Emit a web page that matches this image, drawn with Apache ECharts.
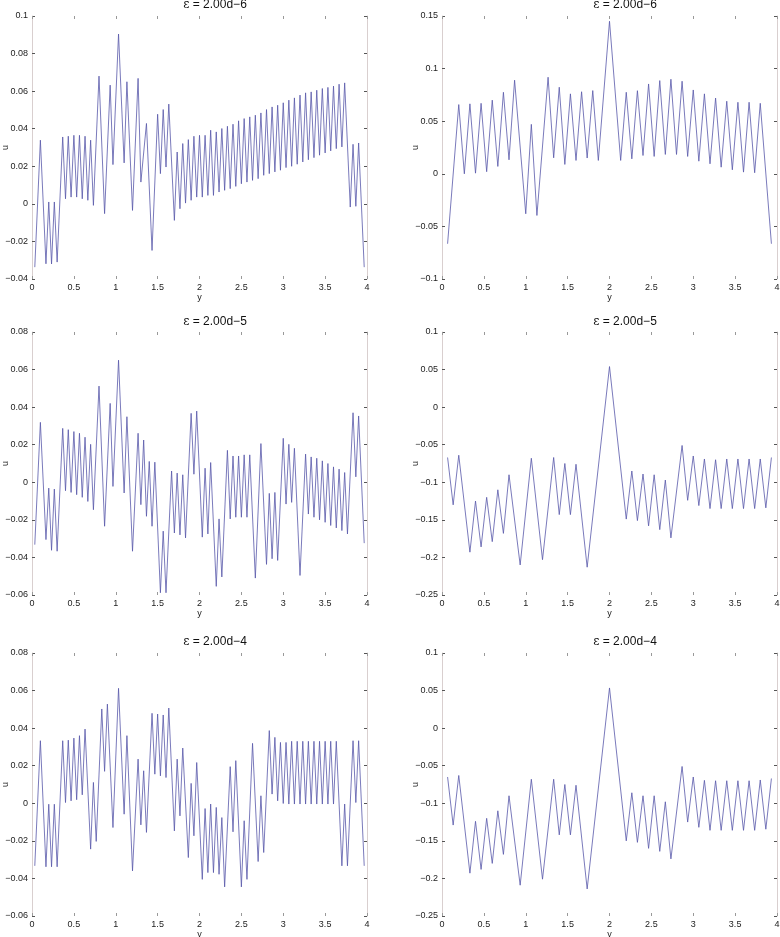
<!DOCTYPE html>
<html><head><meta charset="utf-8">
<script src="https://cdn.jsdelivr.net/npm/echarts/dist/echarts.min.js"></script>
<style>html,body{margin:0;padding:0;background:#fff}#c{width:780px;height:937px}</style>
</head><body><div id="c"></div>
<script>
const N = null;
const titles = ['2.00d\u22126', '2.00d\u22126', '2.00d\u22125', '2.00d\u22125', '2.00d\u22124', '2.00d\u22124'];
const xTicks = [0, 0.5, 1, 1.5, 2, 2.5, 3, 3.5, 4];
const stepLeft = 1 / 30, stepRight = 1 / 15;
const yRanges = [[-0.04, 0.1, 0.02], [-0.1, 0.15, 0.05], [-0.06, 0.08, 0.02], [-0.25, 0.1, 0.05], [-0.06, 0.08, 0.02], [-0.25, 0.1, 0.05]];

const uTopLeft = [
 -0.0337, N, 0.0339, N, -0.0319, 0.001, -0.032, 0.001, -0.031, N,
 0.0356, 0.0027, 0.036, 0.0036, 0.0365, 0.0036, 0.0365, 0.0027, 0.036, 0.0019,
 0.0339, -0.0008, N, 0.068, N, -0.0052, N, 0.0632, 0.0209, N,
 0.0904, N, 0.0218, 0.065, N, -0.0035, N, 0.0668, 0.0116, N,
 0.0428, N, -0.0248, N, 0.0477, 0.0161, 0.0502, 0.0196, 0.0531, N,
 -0.0088, 0.0276, -0.0026, 0.0321, 0.0004, 0.0342, 0.0019, 0.036, 0.0036, 0.0365,
 0.0036, 0.0365, 0.0045, 0.0392, 0.0045, 0.0383, 0.0063, 0.0401, 0.0072, 0.0413,
 0.0081, 0.0424, 0.0093, 0.0442, 0.0107, 0.0454, 0.0116, 0.0463, 0.0125, 0.0472,
 0.0134, 0.0484, 0.0152, 0.0502, 0.0161, 0.0516, 0.017, 0.0525, 0.0179, 0.0538,
 0.0193, 0.0552, 0.02, 0.0564, 0.0211, 0.0579, 0.0223, 0.0591, 0.0235, 0.0596,
 0.0246, 0.0605, 0.0259, 0.0614, 0.0271, 0.062, 0.0282, 0.0627, 0.0294, 0.0637,
 0.0303, 0.0644, N, -0.0017, 0.0317, -0.0013, 0.0324, N, -0.0337
];
const uMidLeft = [
 -0.0332, N, 0.0319, N, -0.0305, -0.0031, -0.0362, -0.0036, -0.0367, N,
 0.0287, -0.0045, 0.028, -0.0054, 0.027, -0.0066, 0.0261, -0.008, 0.024, -0.0102,
 0.0202, -0.0146, N, 0.0512, N, -0.0234, N, 0.042, -0.0022, N,
 0.065, N, -0.0057, 0.0349, N, -0.0367, N, 0.0261, -0.0119, 0.0225,
 -0.0181, 0.0111, -0.0234, 0.0107, N, -0.0588, -0.026, -0.0588, N, 0.006,
 -0.027, 0.0049, -0.028, 0.004, -0.0296, N, 0.0367, 0.0043, 0.0379, N,
 -0.0292, 0.0075, -0.0275, 0.0105, N, -0.0554, -0.0195, -0.0504, N, 0.017,
 -0.0195, 0.014, -0.0186, 0.014, -0.0186, 0.0146, -0.0186, 0.0146, N, -0.051,
 N, 0.0206, N, -0.0437, -0.0059, -0.0407, -0.0054, -0.0416, N, 0.0234,
 -0.0116, 0.0202, -0.0107, 0.0181, N, -0.0496, N, 0.015, -0.0169, 0.0135,
 -0.0186, 0.0128, -0.02, 0.0114, -0.0213, 0.01, -0.023, 0.0082, -0.0243, 0.007,
 -0.0257, 0.0052, -0.0275, N, 0.037, 0.0029, 0.0353, N, -0.0324
];
const uBotLeft = [
 -0.0333, N, 0.0333, N, -0.0338, -0.0005, -0.0338, -0.0005, -0.0338, N,
 0.0333, 0.0004, 0.0336, 0.0013, 0.0347, 0.0019, 0.036, 0.0045, 0.0395, N,
 -0.0244, 0.0111, -0.0203, N, 0.0502, 0.017, 0.0528, N, -0.0129, N,
 0.0612, N, -0.0058, 0.036, N, -0.036, N, 0.0235, -0.0115, 0.0173,
 -0.0155, N, 0.0479, 0.0155, 0.0475, 0.0146, 0.047, 0.0137, 0.0507, N,
 -0.0147, 0.0235, -0.0067, 0.0294, N, -0.0289, 0.0106, -0.0173, 0.0217, N,
 -0.0405, -0.0028, -0.0369, -0.0004, -0.0369, -0.0022, -0.0378, -0.0076, -0.0445, N,
 0.0195, -0.0152, 0.0227, N, -0.0445, -0.0093, -0.0405, N, 0.0319, N,
 -0.031, 0.004, -0.0262, N, 0.0387, 0.0049, 0.0351, 0.0013, 0.0324, -0.0001,
 0.0324, -0.0004, 0.033, -0.0004, 0.033, -0.0004, 0.033, -0.0004, 0.033, -0.0004,
 0.033, -0.0004, 0.033, -0.0004, 0.033, -0.0004, 0.033, -0.0004, 0.033, N,
 -0.0333, -0.0004, -0.0333, N, 0.0333, 0.0004, 0.0333, N, -0.0333
];
const uTopRight = [
 -0.0665, N, 0.0658, 0.0, 0.0665, 0.0006, 0.067, 0.002, 0.070, 0.007,
 0.0775, 0.0133, 0.089, N, -0.038, 0.047, -0.0396, N, 0.0918, 0.0152,
 0.0823, 0.0089, 0.076, 0.0127, 0.078, 0.015, 0.0791, 0.0127, N, 0.145,
 N, 0.0127, 0.0775, 0.0142, 0.079, 0.0174, 0.0854, 0.0165, 0.0886, 0.0184,
 0.0899, 0.0184, 0.088, 0.0165, 0.0797, 0.012, 0.076, 0.0095, 0.072, 0.0063,
 0.069, 0.0038, 0.068, 0.0016, 0.068, 0.001, 0.067, N, -0.0665
];
const uMidRight = [
 -0.067, -0.13, -0.064, N, -0.193, -0.125, -0.186, -0.12, -0.179, -0.11,
 -0.168, -0.09, N, -0.21, N, -0.068, N, -0.203, N, -0.067,
 -0.143, -0.075, -0.143, -0.076, N, -0.213, N, N, N, 0.054,
 N, N, -0.149, -0.085, -0.151, -0.089, -0.158, -0.09, -0.163, -0.097,
 -0.174, N, -0.051, -0.124, -0.065, -0.131, -0.069, -0.135, -0.07, -0.135,
 -0.069, -0.135, -0.069, -0.135, -0.069, -0.135, -0.069, -0.134, -0.067
];
const uBotRight = [
 -0.065, -0.129, -0.063, N, -0.193, -0.124, -0.188, -0.12, -0.18, -0.11,
 -0.168, -0.09, N, -0.209, N, -0.068, N, -0.201, N, -0.068,
 -0.142, -0.075, -0.142, -0.076, N, -0.214, N, N, N, 0.0535,
 N, N, -0.15, -0.086, -0.152, -0.09, -0.16, -0.09, -0.164, -0.098,
 -0.174, N, -0.051, -0.125, -0.065, -0.132, -0.0695, -0.136, -0.07, -0.136,
 -0.07, -0.136, -0.07, -0.136, -0.07, -0.136, -0.069, -0.1345, -0.067
];

const panels = [
  {vals: uTopLeft, step: stepLeft}, {vals: uTopRight, step: stepRight},
  {vals: uMidLeft, step: stepLeft}, {vals: uMidRight, step: stepRight},
  {vals: uBotLeft, step: stepLeft}, {vals: uBotRight, step: stepRight}
];

const rowTop = [16, 332, 653], colLeft = [32, 442], W = 335, H = 263;
const titleY = [5, 322, 642], titleX = [215, 625];
const FONT = '"Liberation Sans", Arial, Helvetica, sans-serif';
const lineColor = '#5858aa';
const frameColor = '#d9cfcf';

function fmt(v) {
  const s = String(Math.round(v * 10000) / 10000);
  return s.replace('-', '\u2212');
}

const grid = [], xAxis = [], yAxis = [], series = [], graphic = [];
panels.forEach((p, i) => {
  const r = Math.floor(i / 2), c = i % 2;
  grid.push({left: colLeft[c], top: rowTop[r], width: W, height: H, containLabel: false, outerBoundsMode: 'none'});
  const tickX = {show: true, inside: true, length: 3, lineStyle: {color: '#999', width: 1}};
  xAxis.push({
    gridIndex: i, type: 'value', min: xTicks[0], max: xTicks[xTicks.length - 1], interval: 0.5,
    position: 'bottom', axisLine: {show: false, onZero: false},
    axisTick: tickX,
    axisLabel: {show: true, fontSize: 9, color: '#222', margin: 4, fontFamily: FONT, formatter: fmt},
    splitLine: {show: false},
    name: 'y', nameLocation: 'middle', nameGap: 14, nameMoveOverlap: false,
    nameTextStyle: {fontSize: 9, color: '#222', fontFamily: FONT}
  }, {
    gridIndex: i, type: 'value', min: 0, max: 4, interval: 0.5, position: 'top',
    axisLine: {show: false, onZero: false}, axisTick: tickX,
    axisLabel: {show: false}, splitLine: {show: false}
  });
  const yr = yRanges[i];
  const tickY = {show: true, inside: true, length: 3, lineStyle: {color: '#555', width: 1}};
  yAxis.push({
    gridIndex: i, type: 'value', min: yr[0], max: yr[1], interval: yr[2], position: 'left',
    axisLine: {show: true, onZero: false, lineStyle: {color: frameColor, width: 1}},
    axisTick: tickY,
    axisLabel: {show: true, fontSize: 9, color: '#222', margin: 4, fontFamily: FONT, formatter: fmt},
    splitLine: {show: false},
    name: 'u', nameLocation: 'middle', nameRotate: 90, nameGap: 22, nameMoveOverlap: false,
    nameTextStyle: {fontSize: 9, color: '#222', fontFamily: FONT}
  }, {
    gridIndex: i, type: 'value', min: yr[0], max: yr[1], interval: yr[2], position: 'right',
    axisLine: {show: true, onZero: false, lineStyle: {color: frameColor, width: 1}},
    axisTick: tickY,
    axisLabel: {show: false}, splitLine: {show: false}
  });
  const data = p.vals.map((v, k) => [(k + 1) * p.step, v]).filter(d => d[1] !== null);
  series.push({
    type: 'line', xAxisIndex: 2 * i, yAxisIndex: 2 * i, data: data,
    showSymbol: false, symbol: 'none', connectNulls: true,
    lineStyle: {color: lineColor, width: 0.8}, silent: true
  });
  graphic.push({
    type: 'text', x: titleX[c], y: titleY[r],
    style: {
      text: '{e|\u03b5} = ' + titles[i],
      rich: {e: {fontFamily: '"DejaVu Serif", serif', fontSize: 12, fill: '#111'}},
      fontFamily: FONT, fontSize: 12, fill: '#111', align: 'center', verticalAlign: 'middle'
    }
  });
});

const chart = echarts.init(document.getElementById('c'), null, {renderer: 'canvas'});
chart.setOption({
  animation: false, backgroundColor: '#fff',
  grid: grid, xAxis: xAxis, yAxis: yAxis, series: series, graphic: graphic
});
</script>
</body></html>
